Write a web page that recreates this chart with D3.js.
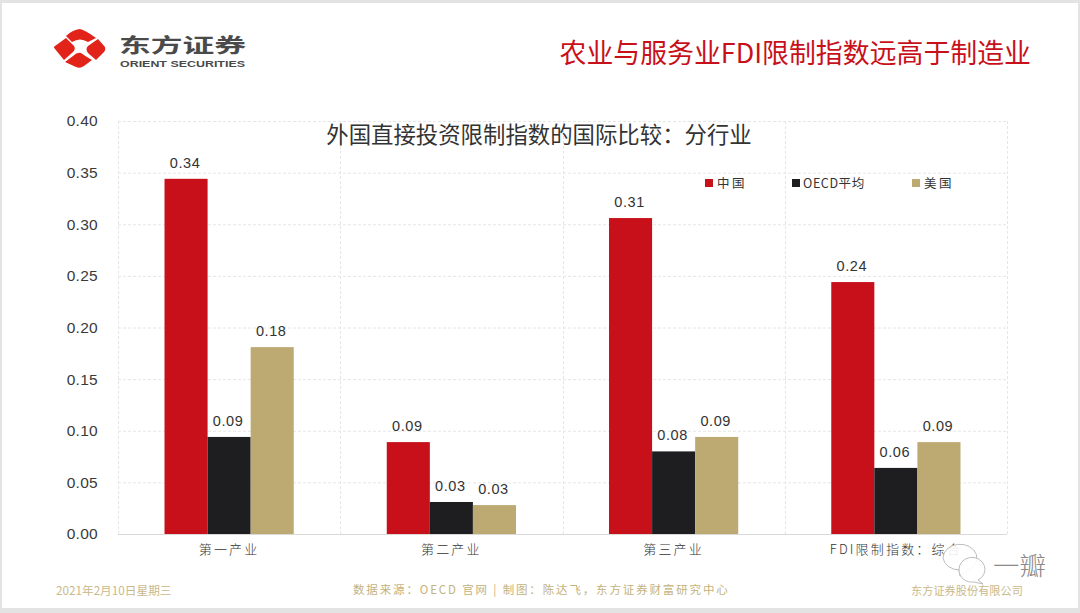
<!DOCTYPE html>
<html><head><meta charset="utf-8">
<script src="https://cdn.jsdelivr.net/npm/d3@7"></script>
<style>
html,body{margin:0;padding:0;background:#e3e3e3;}
svg{display:block;}
text{font-family:"Noto Sans CJK SC","Noto Sans",sans-serif;}
text.mono{font-family:"Liberation Sans","Noto Sans CJK SC",sans-serif;}
</style></head><body>
<svg id="c" width="1080" height="613"></svg>
<script>
const categories = ["第一产业","第二产业","第三产业","FDI限制指数：综合"];
const seriesNames = ["中国","OECD平均","美国"];
const china = [0.344,0.089,0.306,0.244];
const oecd = [0.094,0.031,0.080,0.064];
const usa = [0.181,0.028,0.094,0.089];
const yTicks = [0,0.05,0.10,0.15,0.20,0.25,0.30,0.35,0.40];
const seriesValues = [china,oecd,usa];
const colors = ["#c8101a","#1e1e20","#bda972"];

const svg = d3.select("#c");
svg.append("rect").attr("x",2).attr("y",3).attr("width",1076).attr("height",605).attr("fill","#fff");

const pL=118,pR=1007,pT=121,pB=534;
const x = d3.scaleBand().domain(categories).range([pL,pR]);
const x1 = d3.scaleBand().domain(seriesNames).range([0,x.bandwidth()]).paddingOuter(1.08).paddingInner(0);
const y = d3.scaleLinear().domain([0,0.4]).range([pB,pT]);

// grid
const g = svg.append("g");
g.selectAll(".h").data(yTicks.slice(1)).join("line")
 .attr("x1",pL).attr("x2",pR).attr("y1",d=>y(d)+.5).attr("y2",d=>y(d)+.5)
 .attr("stroke","#e6e6e6").attr("stroke-dasharray","3 2");
const bounds = categories.map(c=>x(c)).concat([pR]);
g.selectAll(".v").data(bounds).join("line")
 .attr("x1",d=>Math.round(d)+.5).attr("x2",d=>Math.round(d)+.5).attr("y1",pT).attr("y2",pB)
 .attr("stroke","#e6e6e6").attr("stroke-dasharray","3 2");

// bars
seriesNames.forEach((s,i)=>{
  const sg = svg.append("g");
  sg.selectAll("rect").data(categories).join("rect")
    .attr("x",c=>x(c)+x1(s)).attr("width",x1.bandwidth())
    .attr("y",(c,j)=>y(seriesValues[i][j])).attr("height",(c,j)=>pB-y(seriesValues[i][j]))
    .attr("fill",colors[i]);
  sg.selectAll("text").data(categories).join("text").attr("class","mono")
    .attr("x",c=>x(c)+x1(s)+x1.bandwidth()/2-1).attr("y",(c,j)=>y(seriesValues[i][j])-11)
    .attr("text-anchor","middle").attr("font-size",14.5).attr("letter-spacing",0.6).attr("fill","#333")
    .text((c,j)=>seriesValues[i][j].toFixed(2));
});
// axis baseline
svg.append("line").attr("x1",pL).attr("x2",pR).attr("y1",pB+.5).attr("y2",pB+.5).attr("stroke","#d9d9d9");

// y axis
const yAxis = d3.axisLeft(y).tickValues(yTicks).tickSize(0).tickPadding(20).tickFormat(d3.format(".2f"));
const ya = svg.append("g").attr("transform",`translate(${pL},0)`).call(yAxis);
ya.select(".domain").remove();
ya.attr("font-family",null);
ya.selectAll("text").attr("class","mono").attr("font-size",15.5).attr("letter-spacing",0.3).attr("fill","#3a3a3a");

// x axis
const xAxis = d3.axisBottom(x).tickSize(0).tickPadding(11);
const xa = svg.append("g").attr("transform",`translate(0,${pB})`).call(xAxis);
xa.select(".domain").remove();
xa.attr("font-family",null);
xa.selectAll("text").attr("font-size",13).attr("fill","#333").attr("letter-spacing",2.2).attr("font-weight",300);

// chart title
svg.append("text").attr("x",539).attr("y",143).attr("text-anchor","middle").attr("font-size",22.4).attr("fill","#333").text("外国直接投资限制指数的国际比较：分行业");

// legend
const lx=[705,792,912], tx=[717,803,924];
seriesNames.forEach((s,i)=>{
  svg.append("rect").attr("x",lx[i]).attr("y",179).attr("width",8).attr("height",8).attr("fill",colors[i]);
  svg.append("text").attr("x",tx[i]).attr("y",188).attr("font-size",12.5).attr("fill","#333").attr("letter-spacing",i==1?0.6:2.4).text(s);
});

// header
svg.append("text").attr("x",1031).attr("y",63).attr("text-anchor","end").attr("font-size",26.9).attr("fill","#c8101a").text("农业与服务业FDI限制指数远高于制造业");

// logo
const logo = svg.append("g").attr("fill","#e2231a");
logo.append("path").attr("d","M80 29 Q85 30 96 38 L88 42 Q80 37 72 42 L66 36 Q72 30 80 29Z");
logo.append("path").attr("d","M66 38 L74 46 Q76 49 73 52 L64 60 L55 49 Q53 47 55 46Z");
logo.append("path").attr("d","M98 39 L105 47 Q106 50 104 52 L96 60 L88 53 Q85 49 88 46Z");
logo.append("path").attr("d","M81 53 Q85 56 92 60 L84 66 Q80 69 76 67 L65 62 L73 56 Q77 52 81 53Z");
svg.append("text").attr("x",119).attr("y",53).attr("font-size",20).attr("font-weight",700).attr("fill","#4a4a4a").attr("textLength",127).attr("lengthAdjust","spacingAndGlyphs").text("东方证券");
svg.append("text").attr("x",120).attr("y",67).attr("font-size",9).attr("font-weight",700).attr("fill","#4a4a4a").style("font-family","Liberation Sans").attr("textLength",125).attr("lengthAdjust","spacingAndGlyphs").text("ORIENT SECURITIES");

// footer
const gold="#c9b98a";
svg.append("text").attr("x",56).attr("y",595).attr("font-size",11.7).attr("fill",gold).text("2021年2月10日星期三");
svg.append("text").attr("x",353).attr("y",594).attr("font-size",11.5).attr("fill","#c4b27c").attr("letter-spacing",1.85).text("数据来源：OECD 官网 | 制图：陈达飞，东方证券财富研究中心");
svg.append("text").attr("x",911).attr("y",595).attr("font-size",11.2).attr("fill",gold).text("东方证券股份有限公司");

// watermark
const wm = svg.append("g").attr("fill","rgba(255,255,255,.88)").attr("stroke","#bdbdbd").attr("stroke-width",1);
wm.append("path").attr("d","M943 558 a17 14 0 1 1 24 13 l-7 5 l-1 -6 a17 14 0 0 1 -16 -12z");
wm.append("path").attr("d","M959 570 a13 12 0 1 1 19 10 l5 4 l-9 -2 a13 12 0 0 1 -15 -12z");
svg.append("text").attr("x",993).attr("y",575).attr("font-size",25).attr("fill","#8a8a8a").attr("font-weight",300).attr("textLength",53).attr("lengthAdjust","spacingAndGlyphs").text("一瓣");
</script>
</body></html>
